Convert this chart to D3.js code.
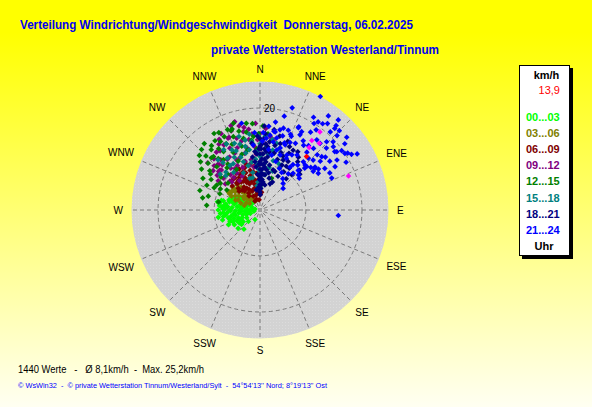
<!DOCTYPE html>
<html><head><meta charset="utf-8">
<script src="https://cdn.jsdelivr.net/npm/d3@7"></script>
<style>
html,body{margin:0;padding:0;overflow:hidden;background:#fff;}
text{font-family:"Liberation Sans",Arial,sans-serif;white-space:pre;}
</style>
</head><body>
<svg id="c" width="592" height="407"></svg>
<script>
// ---------- data ----------
const titleText = "Verteilung Windrichtung/Windgeschwindigkeit  Donnerstag, 06.02.2025";
const subtitleText = "private Wetterstation Westerland/Tinnum";
const directions = ["N","NNE","NE","ENE","E","ESE","SE","SSE","S","SSW","SW","WSW","W","WNW","NW","NNW"];
const ringValues = [9, 20];
const ringLabels = ["", "20"];
const maxSpeed = 25.2;
const avgSpeed = 8.1;
const valueCount = 1440;
const currentSpeed = 13.9;
const currentDir = 41;
const legendRanges = ["00...03","03...06","06...09","09...12","12...15","15...18","18...21","21...24"];
const footerText = "\u00A9 WsWin32  -  \u00A9 private Wetterstation Tinnum/Westerland/Sylt  -  54\u00B054'13'' Nord; 8\u00B019'13'' Ost";

// each point: [direction in degrees (clockwise from N), speed km/h]
const s0003 = [[270,8.2],[279,8.1],[260,8.3],[281,8.5],[230,5.6],[220,4.9],[208,2.1],[249,6.3],[278,7.0],[260,7.3],
[265,6.5],[270,6.0],[275,5.5],[285,6.2],[290,5.0],[295,4.5],[300,3.8],[285,4.0],[275,3.5],[265,3.0],
[255,3.5],[250,4.5],[245,5.0],[258,5.8],[268,4.8],[280,6.8],[288,6.4],[262,4.2],[272,2.5],[282,2.8],
[292,3.0],[305,2.5],[310,2.0],[250,2.0],[240,3.0],[235,4.0],[245,6.8],[255,7.6],[265,7.8],[275,7.5],
[283,5.2],[297,5.4],[303,4.4],[270,1.5],[290,1.8],[260,1.2],[278,4.5],[268,5.8],[252,5.4],[287,5.8],
[240,5.8],[232,4.6],[225,3.2],[300,5.0],[294,6.0],[276,8.0],[262,6.8],[247,3.8],[310,3.5],[315,2.8],
[256,6.4],[272,6.9],[284,7.4],[266,3.8],[252,2.8],[280,1.0],[242,4.2],[288,3.6],[258,4.9],[270,4.0],
[262,5.2],[276,6.4],[286,5.0],[294,4.0],[266,7.2],[252,6.2],[280,3.8],[290,2.6],[258,2.5],[268,2.0],
[300,3.0],[246,5.8],[238,4.8],[284,7.8],[272,7.3]];
const s0306 = [[301,6.9],[295,4.7],[315,2.8],[303,6.6],[310,5.5],[318,4.5],[325,3.5],[330,2.5],[305,3.8],[298,3.0],
[312,6.2],[320,5.8],[308,4.2],[300,5.6],[322,3.0],[335,2.0],[315,5.0],[306,6.0],[296,6.2],[318,6.6],
[328,4.8],[312,3.4],[302,2.4],[290,4.0],[292,5.2],[325,5.5],[332,4.0],[310,7.0],[300,7.2],[340,3.0],
[304,5.0],[314,4.0],[322,5.0],[298,6.8],[308,6.6],[286,3.2]];
const s0609 = [[322,8.0],[344,7.0],[356,5.9],[311,7.2],[330,6.5],[338,5.5],[348,4.5],[352,3.5],[326,4.0],[318,5.2],
[334,3.0],[342,2.2],[320,6.8],[328,7.6],[336,8.2],[346,8.0],[355,7.2],[358,4.0],[315,6.0],[325,5.5],
[332,4.6],[340,6.2],[350,6.0],[345,3.0],[335,7.0],[327,8.6],[317,8.0],[340,8.8],[352,8.6],[3,5.0],
[355,2.0],[330,2.0],[322,3.5],[312,5.5],[348,5.2],[338,4.0],[358,6.8],[5,3.5],[333,9.0],[343,9.5],
[324,7.2],[331,8.0],[337,6.4],[344,5.8],[350,7.6],[319,7.0],[329,5.0],[341,4.2],
[334,6.0],[346,6.8],[353,5.0],[326,6.6],[321,4.8],[339,7.8],[357,8.4],[348,9.2],[0,6.0],[1,3.0]];
const s0912 = [[344,18.0],[354,15.0],[8,14.5],[313,11.1],[315,11.1],[311,9.5],[348,15.7],[11,14.0],[336,15.4],[331,14.6],
[316,10.9],[335,10.8],[315,7.8],[320,9.0],[325,10.0],[330,12.0],[340,13.0],[345,11.5],[350,10.0],[355,12.5],
[338,9.0],[328,8.5],[322,12.5],[318,13.5],[326,14.0],[334,13.5],[342,14.8],[348,12.5],[352,8.5],[332,7.5],
[310,12.0],[305,10.0],[314,8.2],[325,7.0],[340,16.5],[346,17.0],[358,13.8],[2,11.0],[5,13.0],[336,12.2],
[320,11.5],[312,13.8],[330,16.0],[351,14.0],[343,10.0],[327,11.8],[317,12.2],[333,9.8],[307,8.5],[339,11.0],
[337,15.5],[341,17.5],[349,16.5],[345,14.0],[352,16.0],[333,16.8],[328,15.2],[323,14.2],[318,12.0],[314,12.5],
[309,10.8],[321,8.2],[329,9.5],[347,9.0],[356,11.0],[0,15.0],[4,16.0],[357,17.0]];
const s1215 = [[327,16.2],[321,15.2],[312,13.7],[319,13.9],[302,11.3],[288,12.4],[275,10.5],[281,8.3],[301,7.6],[340,16.6],
[347,14.4],[341,16.8],[340,15.3],[333,14.6],[321,13.0],[328,13.5],[304,9.4],[359,15.0],[6,15.0],[20,6.6],
[310,10.0],[315,12.0],[325,11.0],[330,15.5],[335,12.5],[338,17.0],[345,16.0],[350,15.5],[355,17.0],[344,13.0],
[336,10.5],[318,9.5],[308,12.5],[296,10.0],[292,8.5],[332,17.2],[326,14.5],[315,15.0],[322,10.5],[342,11.5],
[348,12.0],[353,13.8],[330,9.2],[305,14.0],[312,16.0],[337,14.0],[320,17.0],[2,16.5],[357,12.0],[324,12.2],
[316,16.5],[309,15.0],[306,12.0],[299,12.8],[295,11.5],[285,10.5],[282,11.5],[298,8.8],[310,8.2],[334,16.0],
[343,17.8],[351,17.2],[355,14.5],[329,17.5],[323,15.8],[317,14.0],[300,9.8]];
const s1518 = [[350,12.0],[355,10.0],[358,8.0],[345,9.0],[340,11.0],[335,13.0],[330,10.5],[325,9.0],[318,10.0],[312,10.5],
[0,13.0],[3,11.0],[5,9.0],[8,7.0],[12,12.0],[15,10.0],[348,14.0],[352,15.0],[342,6.5],[336,8.0],
[356,5.5],[2,6.0],[10,14.0],[18,8.0],[20,11.5],[346,11.5],[338,12.5],[328,12.0],[322,11.8],[353,13.5],
[1,4.5],[6,12.5],[14,13.5],[344,15.0],[333,14.5],[349,7.5],[25,9.5],[359,14.5],[341,10.0],[357,11.5],
[347,12.8],[350,9.5],[354,13.0],[357,9.0],[0,10.5],[4,14.5],[9,11.0],[12,8.5],[17,12.5],[22,9.8],
[343,13.5],[339,14.0],[334,11.5],[329,13.8],[326,10.5],[320,12.8],[315,9.5],[347,6.5],[353,4.8],[0,7.5]];
const s1821 = [[0,3.5],[0,5.0],[0,6.5],[0,8.0],[0,9.5],[0,11.0],[0,12.5],[0,14.0],[2,4.2],[2,7.2],
[2,10.0],[2,13.0],[4,6.0],[4,9.0],[4,12.0],[4,15.0],[6,5.5],[6,8.5],[6,11.5],[8,7.0],
[8,10.5],[8,13.5],[354,9.5],[353,13.2],[350,4.0],[356,7.0],[357,11.0],[358,14.5],[17,13.6],[33,13.6],
[26,9.8],[21,8.1],[42,9.3],[18,8.3],[25,10.8],[25,13.7],[29,13.4],[12,9.0],[14,11.5],[16,6.5],
[20,12.0],[22,14.5],[30,11.0],[35,10.0],[38,12.0],[45,11.0],[28,7.5],[10,16.0],[15,15.0],[3,16.5],
[40,8.0],[32,8.8],[24,6.0],[11,5.0],[48,10.5],
[1,3.0],[1,6.0],[1,9.0],[1,12.0],[3,5.0],[3,8.0],[3,11.0],[3,14.0],[5,7.0],[5,10.0],
[5,13.0],[7,9.5],[7,12.5],[9,8.0],[9,11.5],[359,6.0],[359,9.0],[359,12.0],[357,4.5],[355,8.5],
[355,11.5],[352,10.5],[13,7.5],[13,13.0],[19,10.5],[23,11.5],[27,12.5],[31,10.0],[36,12.8],[21,5.5]];
const s2124 = [[28,25.2],[17.5,21.0],[14.5,19.0],[36,22.8],[41,23.4],[32,20.0],[36,20.9],[42,22.3],[10,15.7],[17,15.2],
[28,16.7],[23,15.7],[33,18.2],[42,20.6],[45,22.0],[50,22.2],[47,19.6],[52,21.1],[57,20.5],[60,22.0],
[61,19.3],[57,18.0],[52,18.6],[62,15.5],[66,15.4],[94,15.4],[36,7.6],[41,6.9],[47,6.2],[51,9.9],
[42,9.7],[54,12.9],[52,13.7],[47,12.5],[42,12.7],[46,15.6],[51,15.2],[51,16.5],[41,16.0],[42,17.6],
[39,17.7],[34,15.3],[39,14.6],[34,13.0],[36,11.0],[27,11.4],[20,11.5],[11,13.6],[5,14.1],[21,13.7],
[28,14.8],[19.5,16.6],[25,18.0],[28,17.4],[47,17.8],[55,16.7],[43,13.9],[35,10.3],[15.5,12.2],[7.6,14.8],
[2.4,15.2],[14,16.2],[354,12.8],[348,17.4],[356,15.2],
[33.4,20.7],[25,17.8],[16,16.7],[11,15.6],[22,16.0],[42.5,21.7],[58.7,21.0],[56.3,20.0],[52.8,18.9],[52.8,13.5],
[47,12.0],[47.6,10.2],[57.8,13.5],[57.3,15.1],[46.8,14.3],[49.2,16.0],[49.2,19.0],[44.3,18.7],[30,12.5],[25,9.0],
[18,10.0],[12,11.0],[8,12.0],[30,8.5],[38,9.0],[44,10.8],[20,14.0],[26,12.0],
[2,13.5],[6,16.5],[10,17.5],[13,14.5],[18,12.8],[24,14.5],[32,16.0],[37,15.8],[40,11.5],[45,12.5],
[50,13.0],[55,14.0],[60,17.0],[35,19.2],[30,21.0],[38,21.5],[46,21.0],[54,19.8]];
const sHighlight = [[37.5,19.3],[36.7,17.0],[38.2,15.6],[41.6,17.5],[69,18.6]];

const seriesList = [s0003, s0306, s0609, s0912, s1215, s1518, s1821, s2124];

// ---------- styles ----------
const seriesColors = ["#00ff00","#808000","#800000","#800080","#008000","#008080","#000080","#0000ff"];
const highlightColor = "#ff00ff";
const currentColor = "#ff0000";

// ---------- drawing ----------
const W = 592, H = 407;
const svg = d3.select("#c");
const defs = svg.append("defs");
const grad = defs.append("linearGradient").attr("id","bg").attr("x1",0).attr("y1",0).attr("x2",0).attr("y2",1);
grad.append("stop").attr("offset","0%").attr("stop-color","#ffff00");
grad.append("stop").attr("offset","8%").attr("stop-color","#ffff00");
grad.append("stop").attr("offset","100%").attr("stop-color","#fffff2");
svg.append("rect").attr("width",W).attr("height",H).attr("fill","url(#bg)");

// titles
svg.append("text").attr("x",20).attr("y",29).attr("font-size",13.5).attr("font-weight","bold")
  .attr("fill","#0000f0").attr("textLength",393).attr("lengthAdjust","spacingAndGlyphs").text(titleText);
svg.append("text").attr("x",211).attr("y",53.5).attr("font-size",13.5).attr("font-weight","bold")
  .attr("fill","#0000f0").attr("textLength",228).attr("lengthAdjust","spacingAndGlyphs").text(subtitleText);

// polar
const cx = 260, cy = 210;
const rScale = d3.scaleLinear().domain([0, maxSpeed]).range([0, 128.5]);
const aScale = d3.scaleLinear().domain([0, 360]).range([0, 2*Math.PI]);
const g = svg.append("g").attr("transform",`translate(${cx},${cy})`);
const R = rScale(maxSpeed);
g.append("circle").attr("r", R).attr("fill","#d3d3d3");

const pat = defs.append("pattern").attr("id","dots").attr("width",3).attr("height",3).attr("patternUnits","userSpaceOnUse");
pat.append("rect").attr("x",1).attr("y",1).attr("width",1).attr("height",1).attr("fill","#dcdcdc");
g.append("circle").attr("r", R).attr("fill","url(#dots)");

g.selectAll("circle.ring").data(ringValues).join("circle").attr("class","ring")
  .attr("r", d => rScale(d)).attr("fill","none").attr("stroke","#7a7a7a").attr("stroke-width",1)
  .attr("stroke-dasharray","4,3");

g.selectAll("line.spoke").data(directions).join("line").attr("class","spoke")
  .attr("x1",(d,i)=>4*Math.sin(aScale(i*22.5))).attr("y1",(d,i)=>-4*Math.cos(aScale(i*22.5)))
  .attr("x2",(d,i)=>R*Math.sin(aScale(i*22.5))).attr("y2",(d,i)=>-R*Math.cos(aScale(i*22.5)))
  .attr("stroke","#7a7a7a").attr("stroke-width",1).attr("stroke-dasharray","4,3");

ringValues.forEach((v,i)=>{
  if (!ringLabels[i]) return;
  g.append("text").attr("x",9.5).attr("y",-rScale(v)+3.5).attr("text-anchor","middle")
    .attr("font-size",10).attr("fill","#000").text(ringLabels[i]);
});

directions.forEach((d,i)=>{
  const a = aScale(i*22.5);
  const t = svg.append("text").attr("font-size",10).attr("fill","#000").attr("text-anchor","middle").text(d);
  const w = t.node().getComputedTextLength();
  const rr = 137 + 3.6*Math.abs(Math.cos(a)) + (w/2)*Math.abs(Math.sin(a));
  const x = cx + rr*Math.sin(a), y = cy - rr*Math.cos(a);
  t.attr("x", x).attr("y", y + 3.6);
});

// points
const sym = d3.symbol().type(d3.symbolSquare).size(16);
function pos(d){ const a = aScale(d[0]), rr = rScale(d[1]); return [rr*Math.sin(a), -rr*Math.cos(a)]; }
function tr(d){ const p = pos(d); return `translate(${p[0]},${p[1]}) rotate(45)`; }
seriesList.forEach((s,k)=>{
  g.append("g").selectAll("path").data(s).join("path")
    .attr("d", sym).attr("transform", tr).attr("fill", seriesColors[k]);
});
g.append("g").selectAll("path").data(sHighlight).join("path").attr("d", sym)
  .attr("transform", tr).attr("fill", highlightColor);
g.append("path").datum([currentDir, currentSpeed]).attr("d", sym)
  .attr("transform", tr).attr("fill", currentColor);
g.append("rect").attr("x",-2).attr("y",-2).attr("width",4).attr("height",4).attr("fill","#9a9a9a");

// legend
svg.append("rect").attr("x",522).attr("y",68).attr("width",51).attr("height",191).attr("fill","#000");
svg.append("rect").attr("x",519.5).attr("y",65.5).attr("width",50).attr("height",190).attr("fill","#fff").attr("stroke","#000");
svg.append("text").attr("x",546.5).attr("y",79).attr("text-anchor","middle").attr("font-size",11).attr("font-weight","bold").text("km/h");
svg.append("text").attr("x",560).attr("y",94).attr("text-anchor","end").attr("font-size",11).attr("fill","#ff0000")
  .text(d3.format(".1f")(currentSpeed).replace(".", ","));
svg.selectAll("text.leg").data(legendRanges).join("text").attr("class","leg")
  .attr("x",526).attr("y",(d,i)=>121 + i*16.1).attr("font-size",11).attr("font-weight","bold")
  .attr("fill",(d,i)=>seriesColors[i]).text(d=>d);
svg.append("text").attr("x",544).attr("y",250).attr("text-anchor","middle").attr("font-size",11).attr("font-weight","bold").text("Uhr");

// footer
const fmt = v => d3.format(".1f")(v).replace(".", ",");
svg.append("text").attr("x",18).attr("y",373).attr("font-size",11).attr("fill","#000")
  .attr("textLength",186).attr("lengthAdjust","spacingAndGlyphs")
  .text(`${valueCount} Werte   -   \u00D8 ${fmt(avgSpeed)}km/h  -  Max. ${fmt(maxSpeed)}km/h`);
svg.append("text").attr("x",18).attr("y",388).attr("font-size",7.5).attr("fill","#0000ff")
  .attr("textLength",309).attr("lengthAdjust","spacingAndGlyphs").text(footerText);
</script>
</body></html>
